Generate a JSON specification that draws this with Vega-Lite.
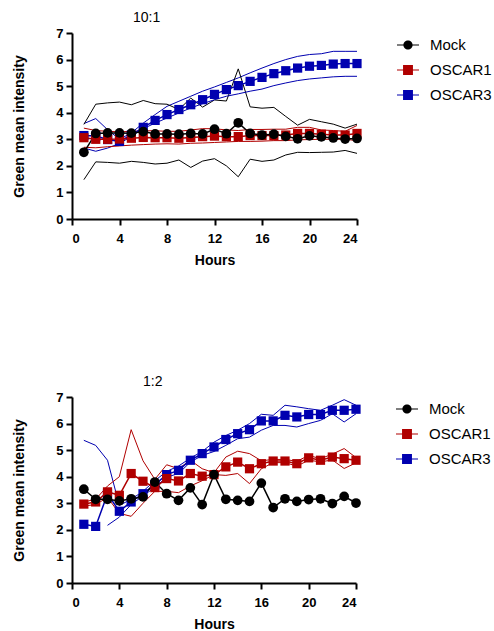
{
  "$schema": "https://vega.github.io/schema/vega-lite/v6.json",
  "padding": {"left": 12, "top": 11, "right": 0, "bottom": 0},
  "background": "white",
  "config": {
    "view": {"stroke": null},
    "font": "Liberation Sans",
    "axis": {
      "grid": false,
      "domainColor": "black",
      "domainWidth": 2,
      "tickColor": "black",
      "tickWidth": 2,
      "tickSize": 6,
      "labelFont": "Liberation Sans",
      "labelFontWeight": "bold",
      "labelFontSize": 13,
      "labelColor": "black",
      "titleFont": "Liberation Sans",
      "titleFontWeight": "bold",
      "titleFontSize": 14,
      "titleColor": "black"
    },
    "axisY": {"labelPadding": 3, "titlePadding": 29, "tickCount": 7},
    "axisX": {"labelPadding": 7, "titlePadding": 8},
    "legend": {
      "orient": "right",
      "offset": 36,
      "padding": 0,
      "labelFont": "Liberation Sans",
      "labelFontSize": 15,
      "labelColor": "black",
      "labelOffset": 10,
      "symbolSize": 484,
      "rowPadding": 5
    },
    "title": {"font": "Liberation Sans", "fontSize": 14, "fontWeight": "normal", "color": "black", "anchor": "start", "frame": "group"}
  },
  "datasets": {
    "t": [
      {"h":1,"s":"OSCAR3","m":3.14,"u":3.59,"l":2.67},
      {"h":2,"s":"OSCAR3","m":3.12,"u":3.78,"l":2.55},
      {"h":3,"s":"OSCAR3","m":2.99,"u":3.36,"l":2.67},
      {"h":4,"s":"OSCAR3","m":2.92,"u":3.00,"l":2.84},
      {"h":5,"s":"OSCAR3","m":3.16,"u":3.24,"l":3.11},
      {"h":6,"s":"OSCAR3","m":3.45,"u":3.61,"l":3.40},
      {"h":7,"s":"OSCAR3","m":3.71,"u":3.93,"l":3.61},
      {"h":8,"s":"OSCAR3","m":3.93,"u":4.24,"l":3.80},
      {"h":9,"s":"OSCAR3","m":4.12,"u":4.43,"l":3.99},
      {"h":10,"s":"OSCAR3","m":4.30,"u":4.62,"l":4.18},
      {"h":11,"s":"OSCAR3","m":4.49,"u":4.81,"l":4.34},
      {"h":12,"s":"OSCAR3","m":4.69,"u":4.97,"l":4.49},
      {"h":13,"s":"OSCAR3","m":4.87,"u":5.14,"l":4.62},
      {"h":14,"s":"OSCAR3","m":5.02,"u":5.31,"l":4.71},
      {"h":15,"s":"OSCAR3","m":5.18,"u":5.50,"l":4.81},
      {"h":16,"s":"OSCAR3","m":5.33,"u":5.68,"l":4.89},
      {"h":17,"s":"OSCAR3","m":5.47,"u":5.85,"l":5.02},
      {"h":18,"s":"OSCAR3","m":5.58,"u":6.00,"l":5.12},
      {"h":19,"s":"OSCAR3","m":5.68,"u":6.12,"l":5.21},
      {"h":20,"s":"OSCAR3","m":5.75,"u":6.19,"l":5.27},
      {"h":21,"s":"OSCAR3","m":5.78,"u":6.22,"l":5.31},
      {"h":22,"s":"OSCAR3","m":5.83,"u":6.31,"l":5.35},
      {"h":23,"s":"OSCAR3","m":5.85,"u":6.31,"l":5.37},
      {"h":24,"s":"OSCAR3","m":5.85,"u":6.31,"l":5.37},
      {"h":1,"s":"OSCAR1","m":3.06,"u":3.42,"l":2.70},
      {"h":2,"s":"OSCAR1","m":3.00,"u":3.33,"l":2.68},
      {"h":3,"s":"OSCAR1","m":3.00,"u":3.30,"l":2.72},
      {"h":4,"s":"OSCAR1","m":3.01,"u":3.28,"l":2.75},
      {"h":5,"s":"OSCAR1","m":3.04,"u":3.30,"l":2.78},
      {"h":6,"s":"OSCAR1","m":3.07,"u":3.32,"l":2.80},
      {"h":7,"s":"OSCAR1","m":3.06,"u":3.32,"l":2.82},
      {"h":8,"s":"OSCAR1","m":3.06,"u":3.30,"l":2.83},
      {"h":9,"s":"OSCAR1","m":3.04,"u":3.30,"l":2.82},
      {"h":10,"s":"OSCAR1","m":3.07,"u":3.35,"l":2.85},
      {"h":11,"s":"OSCAR1","m":3.10,"u":3.40,"l":2.86},
      {"h":12,"s":"OSCAR1","m":3.12,"u":3.40,"l":2.88},
      {"h":13,"s":"OSCAR1","m":3.10,"u":3.35,"l":2.90},
      {"h":14,"s":"OSCAR1","m":3.10,"u":3.33,"l":2.92},
      {"h":15,"s":"OSCAR1","m":3.14,"u":3.37,"l":2.92},
      {"h":16,"s":"OSCAR1","m":3.14,"u":3.37,"l":2.93},
      {"h":17,"s":"OSCAR1","m":3.14,"u":3.38,"l":2.95},
      {"h":18,"s":"OSCAR1","m":3.16,"u":3.38,"l":2.95},
      {"h":19,"s":"OSCAR1","m":3.22,"u":3.45,"l":2.98},
      {"h":20,"s":"OSCAR1","m":3.22,"u":3.45,"l":2.99},
      {"h":21,"s":"OSCAR1","m":3.19,"u":3.35,"l":3.00},
      {"h":22,"s":"OSCAR1","m":3.16,"u":3.33,"l":3.00},
      {"h":23,"s":"OSCAR1","m":3.16,"u":3.30,"l":3.00},
      {"h":24,"s":"OSCAR1","m":3.22,"u":3.52,"l":2.95},
      {"h":1,"s":"Mock","m":2.51,"u":3.56,"l":1.48},
      {"h":2,"s":"Mock","m":3.22,"u":4.32,"l":2.15},
      {"h":3,"s":"Mock","m":3.24,"u":4.37,"l":2.13},
      {"h":4,"s":"Mock","m":3.24,"u":4.40,"l":2.10},
      {"h":5,"s":"Mock","m":3.23,"u":4.30,"l":2.17},
      {"h":6,"s":"Mock","m":3.29,"u":4.46,"l":2.13},
      {"h":7,"s":"Mock","m":3.20,"u":4.34,"l":2.07},
      {"h":8,"s":"Mock","m":3.20,"u":4.32,"l":2.10},
      {"h":9,"s":"Mock","m":3.19,"u":4.12,"l":2.22},
      {"h":10,"s":"Mock","m":3.22,"u":4.55,"l":1.94},
      {"h":11,"s":"Mock","m":3.20,"u":4.21,"l":2.18},
      {"h":12,"s":"Mock","m":3.38,"u":4.48,"l":2.27},
      {"h":13,"s":"Mock","m":3.21,"u":4.44,"l":2.00},
      {"h":14,"s":"Mock","m":3.62,"u":5.65,"l":1.59},
      {"h":15,"s":"Mock","m":3.22,"u":4.22,"l":2.25},
      {"h":16,"s":"Mock","m":3.16,"u":4.17,"l":2.17},
      {"h":17,"s":"Mock","m":3.19,"u":4.20,"l":2.22},
      {"h":18,"s":"Mock","m":3.11,"u":3.86,"l":2.41},
      {"h":19,"s":"Mock","m":3.02,"u":3.53,"l":2.51},
      {"h":20,"s":"Mock","m":3.13,"u":3.75,"l":2.50},
      {"h":21,"s":"Mock","m":3.09,"u":3.66,"l":2.51},
      {"h":22,"s":"Mock","m":3.05,"u":3.57,"l":2.52},
      {"h":23,"s":"Mock","m":3.01,"u":3.42,"l":2.58},
      {"h":24,"s":"Mock","m":3.03,"u":3.57,"l":2.47}
    ],
    "b": [
      {"h":1,"s":"OSCAR3","m":2.21,"u":5.37,"l":null},
      {"h":2,"s":"OSCAR3","m":2.13,"u":5.18,"l":null},
      {"h":3,"s":"OSCAR3","m":3.35,"u":4.62,"l":2.17},
      {"h":4,"s":"OSCAR3","m":2.70,"u":2.92,"l":2.48},
      {"h":5,"s":"OSCAR3","m":3.05,"u":3.15,"l":2.95},
      {"h":6,"s":"OSCAR3","m":3.36,"u":3.45,"l":3.28},
      {"h":7,"s":"OSCAR3","m":3.70,"u":3.85,"l":3.60},
      {"h":8,"s":"OSCAR3","m":4.08,"u":4.20,"l":3.98},
      {"h":9,"s":"OSCAR3","m":4.24,"u":4.40,"l":4.12},
      {"h":10,"s":"OSCAR3","m":4.62,"u":4.70,"l":4.55},
      {"h":11,"s":"OSCAR3","m":4.87,"u":4.95,"l":4.80},
      {"h":12,"s":"OSCAR3","m":5.12,"u":5.30,"l":4.95},
      {"h":13,"s":"OSCAR3","m":5.40,"u":5.55,"l":5.18},
      {"h":14,"s":"OSCAR3","m":5.62,"u":5.75,"l":5.43},
      {"h":15,"s":"OSCAR3","m":5.77,"u":6.00,"l":5.49},
      {"h":16,"s":"OSCAR3","m":6.10,"u":6.35,"l":5.75},
      {"h":17,"s":"OSCAR3","m":6.10,"u":6.31,"l":5.93},
      {"h":18,"s":"OSCAR3","m":6.31,"u":6.69,"l":5.93},
      {"h":19,"s":"OSCAR3","m":6.25,"u":6.63,"l":5.87},
      {"h":20,"s":"OSCAR3","m":6.34,"u":6.56,"l":6.00},
      {"h":21,"s":"OSCAR3","m":6.34,"u":6.50,"l":6.12},
      {"h":22,"s":"OSCAR3","m":6.50,"u":6.69,"l":6.37},
      {"h":23,"s":"OSCAR3","m":6.50,"u":6.90,"l":6.06},
      {"h":24,"s":"OSCAR3","m":6.54,"u":6.69,"l":6.37},
      {"h":1,"s":"OSCAR1","m":2.97,"u":3.05,"l":2.90},
      {"h":2,"s":"OSCAR1","m":3.05,"u":3.15,"l":2.95},
      {"h":3,"s":"OSCAR1","m":3.43,"u":3.65,"l":3.22},
      {"h":4,"s":"OSCAR1","m":3.30,"u":4.00,"l":2.62},
      {"h":5,"s":"OSCAR1","m":4.12,"u":5.77,"l":2.51},
      {"h":6,"s":"OSCAR1","m":3.83,"u":4.60,"l":3.00},
      {"h":7,"s":"OSCAR1","m":3.59,"u":3.90,"l":3.45},
      {"h":8,"s":"OSCAR1","m":3.93,"u":4.45,"l":3.45},
      {"h":9,"s":"OSCAR1","m":3.84,"u":4.30,"l":3.40},
      {"h":10,"s":"OSCAR1","m":4.12,"u":4.62,"l":3.65},
      {"h":11,"s":"OSCAR1","m":4.02,"u":4.30,"l":3.85},
      {"h":12,"s":"OSCAR1","m":4.08,"u":4.15,"l":4.08},
      {"h":13,"s":"OSCAR1","m":4.37,"u":4.74,"l":4.05},
      {"h":14,"s":"OSCAR1","m":4.55,"u":4.96,"l":4.12},
      {"h":15,"s":"OSCAR1","m":4.30,"u":4.87,"l":3.74},
      {"h":16,"s":"OSCAR1","m":4.49,"u":4.60,"l":4.30},
      {"h":17,"s":"OSCAR1","m":4.59,"u":4.65,"l":4.53},
      {"h":18,"s":"OSCAR1","m":4.59,"u":4.65,"l":4.53},
      {"h":19,"s":"OSCAR1","m":4.49,"u":4.58,"l":4.40},
      {"h":20,"s":"OSCAR1","m":4.71,"u":4.80,"l":4.62},
      {"h":21,"s":"OSCAR1","m":4.62,"u":4.68,"l":4.56},
      {"h":22,"s":"OSCAR1","m":4.74,"u":4.85,"l":4.63},
      {"h":23,"s":"OSCAR1","m":4.68,"u":5.06,"l":4.31},
      {"h":24,"s":"OSCAR1","m":4.62,"u":4.72,"l":4.52},
      {"h":1,"s":"Mock","m":3.53,"u":null,"l":null},
      {"h":2,"s":"Mock","m":3.15,"u":null,"l":null},
      {"h":3,"s":"Mock","m":3.15,"u":null,"l":null},
      {"h":4,"s":"Mock","m":3.09,"u":null,"l":null},
      {"h":5,"s":"Mock","m":3.17,"u":null,"l":null},
      {"h":6,"s":"Mock","m":3.24,"u":null,"l":null},
      {"h":7,"s":"Mock","m":3.80,"u":null,"l":null},
      {"h":8,"s":"Mock","m":3.36,"u":null,"l":null},
      {"h":9,"s":"Mock","m":3.11,"u":null,"l":null},
      {"h":10,"s":"Mock","m":3.58,"u":null,"l":null},
      {"h":11,"s":"Mock","m":2.95,"u":null,"l":null},
      {"h":12,"s":"Mock","m":4.08,"u":null,"l":null},
      {"h":13,"s":"Mock","m":3.15,"u":null,"l":null},
      {"h":14,"s":"Mock","m":3.11,"u":null,"l":null},
      {"h":15,"s":"Mock","m":3.07,"u":null,"l":null},
      {"h":16,"s":"Mock","m":3.76,"u":null,"l":null},
      {"h":17,"s":"Mock","m":2.84,"u":null,"l":null},
      {"h":18,"s":"Mock","m":3.17,"u":null,"l":null},
      {"h":19,"s":"Mock","m":3.07,"u":null,"l":null},
      {"h":20,"s":"Mock","m":3.14,"u":null,"l":null},
      {"h":21,"s":"Mock","m":3.17,"u":null,"l":null},
      {"h":22,"s":"Mock","m":2.99,"u":null,"l":null},
      {"h":23,"s":"Mock","m":3.26,"u":null,"l":null},
      {"h":24,"s":"Mock","m":3.01,"u":null,"l":null}
    ]
  },
  "resolve": {
    "scale": {"color": "independent", "shape": "independent", "fill": "independent"},
    "legend": {"color": "independent", "shape": "independent", "fill": "independent"}
  },
  "spacing": 108,
  "vconcat": [
    {
      "width": 285,
      "height": 186,
      "title": {"text": "10:1", "dx": 61, "offset": 2},
      "data": {"name": "t"},
      "layer": [
        {"mark": {"type": "line", "strokeWidth": 1}, "encoding": {
          "x": {"field": "h", "type": "quantitative", "scale": {"domain": [0, 24], "nice": false}, "axis": {"values": [0, 4, 8, 12, 16, 20, 24]}, "title": "Hours"},
          "y": {"field": "u", "type": "quantitative", "scale": {"domain": [0, 7], "nice": false}, "title": "Green mean intensity"},
          "color": {"field": "s", "type": "nominal", "scale": {"domain": ["OSCAR3", "OSCAR1", "Mock"], "range": ["#0000b0", "#b00000", "#000000"]}, "legend": null}}},
        {"mark": {"type": "line", "strokeWidth": 1}, "encoding": {
          "x": {"field": "h", "type": "quantitative", "title": "Hours", "axis": {"values": [0, 4, 8, 12, 16, 20, 24]}},
          "y": {"field": "l", "type": "quantitative", "title": "Green mean intensity"},
          "color": {"field": "s", "type": "nominal", "legend": null}}},
        {"mark": {"type": "line", "strokeWidth": 1.5}, "encoding": {
          "x": {"field": "h", "type": "quantitative", "title": "Hours", "axis": {"values": [0, 4, 8, 12, 16, 20, 24]}},
          "y": {"field": "m", "type": "quantitative", "title": "Green mean intensity"},
          "color": {"field": "s", "type": "nominal", "legend": null}}},
        {"transform": [{"filter": "datum.s !== 'Mock'"}], "mark": {"type": "point", "shape": "square", "filled": true, "size": 85, "opacity": 1}, "encoding": {
          "x": {"field": "h", "type": "quantitative", "title": "Hours", "axis": {"values": [0, 4, 8, 12, 16, 20, 24]}},
          "y": {"field": "m", "type": "quantitative", "title": "Green mean intensity"},
          "color": {"field": "s", "type": "nominal", "legend": null}}},
        {"transform": [{"filter": "datum.s === 'Mock'"}], "mark": {"type": "point", "shape": "circle", "filled": true, "size": 95, "opacity": 1}, "encoding": {
          "x": {"field": "h", "type": "quantitative", "title": "Hours", "axis": {"values": [0, 4, 8, 12, 16, 20, 24]}},
          "y": {"field": "m", "type": "quantitative", "title": "Green mean intensity"},
          "color": {"field": "s", "type": "nominal", "legend": null}}},
        {
          "transform": [{"filter": "datum.h > 100"}],
          "mark": {"type": "point", "filled": true, "opacity": 1},
          "encoding": {
            "x": {"field": "h", "type": "quantitative", "title": "Hours", "axis": {"values": [0, 4, 8, 12, 16, 20, 24]}},
            "y": {"field": "m", "type": "quantitative", "title": "Green mean intensity"},
            "fill": {"field": "s", "type": "nominal", "scale": {"domain": ["Mock", "OSCAR1", "OSCAR3"], "range": ["#000000", "#b00000", "#0000b0"]}, "legend": {"title": null}},
            "shape": {"field": "s", "type": "nominal", "scale": {"domain": ["Mock", "OSCAR1", "OSCAR3"], "range": ["M-1,-0.04H1V0.04H-1Z M0.42,0A0.42,0.42 0 1 1 -0.42,0A0.42,0.42 0 1 1 0.42,0Z", "M-1,-0.04H1V0.04H-1Z M-0.45,-0.45H0.45V0.45H-0.45Z", "M-1,-0.04H1V0.04H-1Z M-0.45,-0.45H0.45V0.45H-0.45Z"]}, "legend": {"title": null}}
          }
        }
      ]
    },
    {
      "width": 284,
      "height": 186,
      "title": {"text": "1:2", "dx": 71, "offset": 2},
      "data": {"name": "b"},
      "layer": [
        {"mark": {"type": "line", "strokeWidth": 1}, "encoding": {
          "x": {"field": "h", "type": "quantitative", "scale": {"domain": [0, 24], "nice": false}, "axis": {"values": [0, 4, 8, 12, 16, 20, 24]}, "title": "Hours"},
          "y": {"field": "u", "type": "quantitative", "scale": {"domain": [0, 7], "nice": false}, "title": "Green mean intensity"},
          "color": {"field": "s", "type": "nominal", "scale": {"domain": ["OSCAR3", "OSCAR1", "Mock"], "range": ["#0000b0", "#b00000", "#000000"]}, "legend": null}}},
        {"mark": {"type": "line", "strokeWidth": 1}, "encoding": {
          "x": {"field": "h", "type": "quantitative", "title": "Hours", "axis": {"values": [0, 4, 8, 12, 16, 20, 24]}},
          "y": {"field": "l", "type": "quantitative", "title": "Green mean intensity"},
          "color": {"field": "s", "type": "nominal", "legend": null}}},
        {"mark": {"type": "line", "strokeWidth": 1.5}, "encoding": {
          "x": {"field": "h", "type": "quantitative", "title": "Hours", "axis": {"values": [0, 4, 8, 12, 16, 20, 24]}},
          "y": {"field": "m", "type": "quantitative", "title": "Green mean intensity"},
          "color": {"field": "s", "type": "nominal", "legend": null}}},
        {"transform": [{"filter": "datum.s !== 'Mock'"}], "mark": {"type": "point", "shape": "square", "filled": true, "size": 85, "opacity": 1}, "encoding": {
          "x": {"field": "h", "type": "quantitative", "title": "Hours", "axis": {"values": [0, 4, 8, 12, 16, 20, 24]}},
          "y": {"field": "m", "type": "quantitative", "title": "Green mean intensity"},
          "color": {"field": "s", "type": "nominal", "legend": null}}},
        {"transform": [{"filter": "datum.s === 'Mock'"}], "mark": {"type": "point", "shape": "circle", "filled": true, "size": 95, "opacity": 1}, "encoding": {
          "x": {"field": "h", "type": "quantitative", "title": "Hours", "axis": {"values": [0, 4, 8, 12, 16, 20, 24]}},
          "y": {"field": "m", "type": "quantitative", "title": "Green mean intensity"},
          "color": {"field": "s", "type": "nominal", "legend": null}}},
        {
          "transform": [{"filter": "datum.h > 100"}],
          "mark": {"type": "point", "filled": true, "opacity": 1},
          "encoding": {
            "x": {"field": "h", "type": "quantitative", "title": "Hours", "axis": {"values": [0, 4, 8, 12, 16, 20, 24]}},
            "y": {"field": "m", "type": "quantitative", "title": "Green mean intensity"},
            "fill": {"field": "s", "type": "nominal", "scale": {"domain": ["Mock", "OSCAR1", "OSCAR3"], "range": ["#000000", "#b00000", "#0000b0"]}, "legend": {"title": null}},
            "shape": {"field": "s", "type": "nominal", "scale": {"domain": ["Mock", "OSCAR1", "OSCAR3"], "range": ["M-1,-0.04H1V0.04H-1Z M0.42,0A0.42,0.42 0 1 1 -0.42,0A0.42,0.42 0 1 1 0.42,0Z", "M-1,-0.04H1V0.04H-1Z M-0.45,-0.45H0.45V0.45H-0.45Z", "M-1,-0.04H1V0.04H-1Z M-0.45,-0.45H0.45V0.45H-0.45Z"]}, "legend": {"title": null}}
          }
        }
      ]
    }
  ]
}
